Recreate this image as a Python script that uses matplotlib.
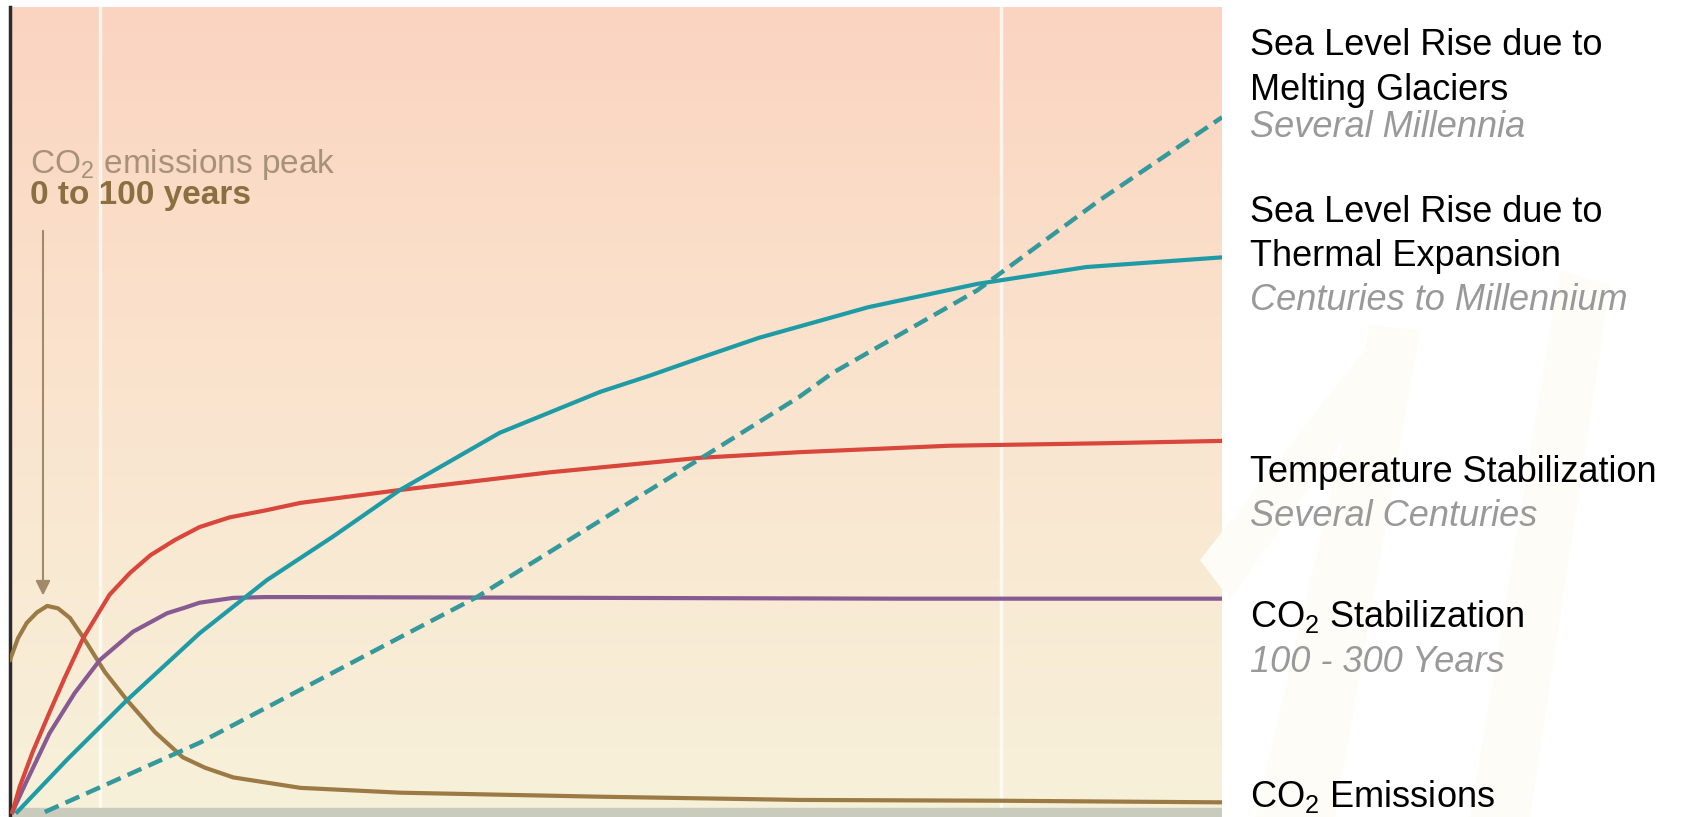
import numpy as np
import matplotlib
matplotlib.use("Agg")
import matplotlib.pyplot as plt
from matplotlib.patches import Polygon

plt.rcParams["font.family"] = ["Liberation Sans", "DejaVu Sans"]
plt.rcParams["mathtext.fontset"] = "custom"
plt.rcParams["mathtext.rm"] = "Liberation Sans"
plt.rcParams["mathtext.default"] = "regular"

# relative time (0-101) and relative magnitude (0-100)
co2_emis_x = [0, 0.67, 1.4, 2.25, 3.1, 4.0, 5.0, 6.1, 7.9, 9.75, 12.1, 14.4, 16.25, 18.6, 24.2, 32.5, 49.2, 65.8, 82.5, 101]
co2_emis_y = [18.9, 21.6, 23.5, 24.8, 25.6, 25.3, 24.1, 21.7, 17.4, 13.9, 9.9, 6.8, 5.5, 4.3, 3.0, 2.4, 1.9, 1.5, 1.4, 1.2]

temp_x = [0.2, 0.8, 1.9, 3.3, 4.6, 6.1, 8.3, 10.0, 11.7, 13.75, 15.8, 18.3, 21.4, 24.2, 32.5, 45.0, 57.5, 65.8, 78.3, 90.8, 101]
temp_y = [0, 3.1, 7.5, 12.4, 16.8, 21.6, 27.0, 29.7, 31.9, 33.8, 35.4, 36.6, 37.5, 38.4, 40.0, 42.2, 44.0, 44.7, 45.5, 45.8, 46.1]

co2_stab_x = [0.2, 1.25, 3.3, 5.4, 7.5, 10.25, 13.1, 14.6, 15.8, 18.6, 21.25, 24.2, 49.2, 74.2, 101]
co2_stab_y = [0, 3.4, 9.8, 14.8, 18.9, 22.4, 24.7, 25.4, 26.0, 26.6, 26.7, 26.7, 26.6, 26.5, 26.5]

thermal_x = [0.6, 4.75, 9.75, 15.8, 21.4, 26.9, 32.5, 40.8, 49.2, 53.3, 57.5, 62.4, 71.5, 80.6, 89.7, 101]
thermal_y = [0, 6.5, 13.9, 22.2, 28.8, 34.2, 40.0, 47.1, 52.2, 54.2, 56.4, 58.9, 62.7, 65.6, 67.7, 68.9]

glacier_x = [2.9, 15.8, 32.5, 38.9, 57.75, 65.8, 68.5, 80.6, 90.8, 101]
glacier_y = [0, 8.6, 21.7, 26.7, 44.1, 51.6, 54.5, 64.8, 76.0, 86.3]

peak_x = 2.75
peak_top = 72.2
peak_tip = 26.9
white_lines_x = [7.5, 82.6]

labels = [
    ("Sea Level Rise due to", "#000000", "normal", 55),
    ("Melting Glaciers", "#000000", "normal", 100),
    ("Several Millennia", "#999999", "italic", 137),
    ("Sea Level Rise due to", "#000000", "normal", 222),
    ("Thermal Expansion", "#000000", "normal", 266),
    ("Centuries to Millennium", "#999999", "italic", 310),
    ("Temperature Stabilization", "#000000", "normal", 482),
    ("Several Centuries", "#999999", "italic", 526),
    ("CO$_2$ Stabilization", "#000000", "normal", 627),
    ("100 - 300 Years", "#999999", "italic", 672),
    ("CO$_2$ Emissions", "#000000", "normal", 807),
]

W, H = 1684, 817
fig = plt.figure(figsize=(W / 100, H / 100), dpi=100)
fig.patch.set_facecolor("white")

# very faint watermark strokes on the right
wm = "#fdfcf6"
for pts in ([[1255, 817], [1335, 817], [1420, 330], [1370, 325]],
            [[1560, 270], [1610, 285], [1530, 817], [1470, 817]],
            [[1200, 560], [1380, 330], [1420, 330], [1230, 600]]):
    fig.patches.append(Polygon([[px / W, 1 - py / H] for px, py in pts], closed=True,
                               transform=fig.transFigure, facecolor=wm,
                               edgecolor="none", zorder=0))

ax = fig.add_axes([10 / W, 0, 1212 / W, 810 / H])
ylo = -0.62
ax.set_xlim(0, 101)
ax.set_ylim(ylo, 100)

# background gradient, peach at top to cream at bottom
top = np.array([250, 212, 192]) / 255
mid = np.array([250, 229, 207]) / 255
bot = np.array([247, 241, 218]) / 255
t = np.linspace(0, 1, 256)[:, None]
grad = np.where(t < 0.5, top + (mid - top) * (t / 0.5), mid + (bot - mid) * ((t - 0.5) / 0.5))
ax.imshow(grad[:, None, :], extent=[0, 101, ylo, 100], aspect="auto", zorder=0)

for wx in white_lines_x:
    ax.axvline(wx, color="white", lw=2.5, alpha=0.7, zorder=1)

ax.axhspan(ylo, 0.5, color="#c9ccbd", zorder=1)

ax.plot(co2_emis_x, co2_emis_y, color="#9c7a45", lw=3, zorder=3)
ax.plot(co2_stab_x, co2_stab_y, color="#875a92", lw=3, zorder=3)
ax.plot(temp_x, temp_y, color="#d8463c", lw=3, zorder=4)
ax.plot(glacier_x, glacier_y, color="#35999b", lw=3.2, ls=(0, (3.4, 1.7)), zorder=4)
ax.plot(thermal_x, thermal_y, color="#1f9ba6", lw=3, zorder=5)

ax.annotate("", xy=(peak_x, peak_tip), xytext=(peak_x, peak_top),
            arrowprops=dict(arrowstyle="-|>", color="#a08a6a", lw=1.5,
                            mutation_scale=22, shrinkA=0, shrinkB=0), zorder=6)
ax.text(1.67, 79.4, "CO$_2$ emissions peak", color="#a69276", fontsize=24,
        va="baseline", ha="left", zorder=6)
ax.text(1.67, 75.5, "0 to 100 years", color="#8b6f40", fontsize=24, fontweight="bold",
        va="baseline", ha="left", zorder=6)

for s in ["top", "right", "bottom"]:
    ax.spines[s].set_visible(False)
ax.spines["left"].set_color("#2b2b2b")
ax.spines["left"].set_linewidth(2.5)
ax.set_xticks([])
ax.set_yticks([])

for txt, col, style, base in labels:
    fig.text(1250 / W, 1 - base / H, txt, color=col, fontstyle=style, fontsize=26,
             va="baseline", ha="left")

fig.savefig("out.png", dpi=100)
